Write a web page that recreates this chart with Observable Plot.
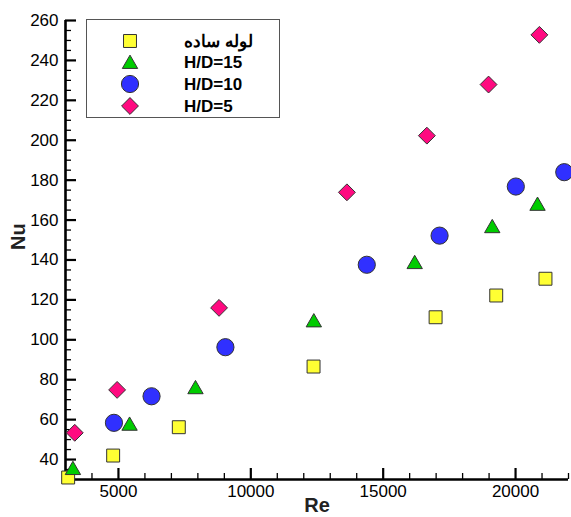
<!DOCTYPE html>
<html><head><meta charset="utf-8">
<script src="https://cdn.jsdelivr.net/npm/d3@7"></script>
<script src="https://cdn.jsdelivr.net/npm/@observablehq/plot@0.6"></script>
<style>
body{margin:0;background:#fff;font-family:"Liberation Sans",Arial,sans-serif;}
#chart{position:relative;width:571px;height:517px;overflow:hidden}
#legend{position:absolute;left:86px;top:19px}
</style></head><body><div id="chart"></div>
<script>
// ---- data ----
const seriesNames = ["لوله ساده", "H/D=15", "H/D=10", "H/D=5"];
const rePlain = [3100, 4800, 7280, 12370, 16980, 19270, 21130];
const nuPlain = [31, 42, 56.2, 86.6, 111.3, 122.2, 130.6];
const reHD15 = [3280, 5420, 7910, 12380, 16190, 19120, 20830];
const nuHD15 = [35.7, 57.9, 76.2, 109.7, 138.9, 156.9, 168.1];
const reHD10 = [4830, 6250, 9040, 14380, 17130, 20010, 21840];
const nuHD10 = [58.4, 71.7, 96.3, 137.6, 152.2, 176.8, 184];
const reHD5 = [3350, 4950, 8800, 13630, 16650, 18980, 20900];
const nuHD5 = [53.4, 74.9, 116, 173.9, 202.3, 227.9, 252.8];
const xTickLabels = [5000, 10000, 15000, 20000];
const yTickLabels = [40, 60, 80, 100, 120, 140, 160, 180, 200, 220, 240, 260];
const xDomain = [3000, 22000];
const yDomain = [30, 260];

// ---- styles ----
const styles = [
  {symbol: "square", fill: "#ffff33", r: 7.3, dy: 0},
  {symbol: "triangle", fill: "#00cc00", r: 5.7, dy: 2},
  {symbol: "circle", fill: "#3030ff", r: 8.6, dy: 0},
  {symbol: "diamond2", fill: "#ff0a80", r: 7.6, dy: 0}
];
const reArr = [rePlain, reHD15, reHD10, reHD5];
const nuArr = [nuPlain, nuHD15, nuHD10, nuHD5];
const tables = reArr.map((res, i) => res.map((re, j) => ({re, nu: nuArr[i][j], series: seriesNames[i]})));

const xMinor = d3.range(4000, 22001, 1000).filter(v => !xTickLabels.includes(v));
const yMinor = d3.range(35, 260, 5).filter(v => !yTickLabels.includes(v));

const W = 571, H = 517, mL = 65, mR = 3, mT = 20, mB = 38;
const frameW = W - mL - mR, frameH = H - mT - mB;
// convert a tick length in pixels into data units of each scale
const yPerPx = (yDomain[1] - yDomain[0]) / frameH;
const xPerPx = (xDomain[1] - xDomain[0]) / frameW;
const xTicksMark = (vals, len, sw) => Plot.ruleX(vals, {x: d => d, y1: yDomain[0], y2: yDomain[0] + len * yPerPx, stroke: "#000", strokeWidth: sw});
const yTicksMark = (vals, len, sw) => Plot.ruleY(vals, {y: d => d, x1: xDomain[0], x2: xDomain[0] + len * xPerPx, stroke: "#000", strokeWidth: sw});

const font = '"Liberation Sans", Arial, sans-serif';
const chart = Plot.plot({
  width: W, height: H,
  marginLeft: mL, marginRight: mR, marginTop: mT, marginBottom: mB,
  style: {fontFamily: font, fontSize: "17px", background: "#fff", overflow: "visible"},
  x: {domain: xDomain},
  y: {domain: yDomain},
  marks: [
    xTicksMark(xMinor, 6, 1.3),
    xTicksMark(xTickLabels, 11, 2.2),
    yTicksMark(yMinor, 6, 1.3),
    yTicksMark(yTickLabels, 11, 2.2),
    Plot.axisX(xTickLabels, {tickSize: 0, tickPadding: 5, tickFormat: d => String(d), fontSize: 17, label: null}),
    Plot.axisY(yTickLabels, {tickSize: 0, tickPadding: 7, tickFormat: d => String(d), fontSize: 17, label: null}),
    Plot.ruleX([xDomain[0]], {strokeWidth: 2.6, stroke: "#000"}),
    Plot.ruleY([yDomain[0]], {strokeWidth: 2.6, stroke: "#000"}),
    ...tables.map((t, i) => Plot.dot(t, {
      x: "re", y: "nu", symbol: () => styles[i].symbol, r: styles[i].r, dy: styles[i].dy,
      fill: styles[i].fill, stroke: "#333", strokeWidth: 1, fillOpacity: 1
    })),
    Plot.text(["Re"], {frameAnchor: "bottom", lineAnchor: "top", dy: 18, fontSize: 20, fontWeight: "bold", fill: "#222"}),
    Plot.text(["Nu"], {frameAnchor: "left", rotate: -90, dx: -47, fontSize: 20, fontWeight: "bold", fill: "#222"})
  ]
});
const container = document.getElementById("chart");
container.appendChild(chart);

// ---- legend overlay ----
const lw = 193, lh = 98;
const leg = d3.select(container).append("svg").attr("id", "legend")
  .attr("width", lw + 1).attr("height", lh + 1);
leg.append("rect").attr("x", 0.5).attr("y", 0.5).attr("width", lw).attr("height", lh)
  .attr("fill", "#fff").attr("stroke", "#555").attr("stroke-width", 1);
const symMap = {square: d3.symbolSquare, triangle: d3.symbolTriangle, circle: d3.symbolCircle, diamond2: d3.symbolDiamond2};
const rowY = [22, 43, 65, 87];
seriesNames.forEach((name, i) => {
  const s = styles[i];
  leg.append("path")
    .attr("d", d3.symbol(symMap[s.symbol], Math.PI * s.r * s.r)())
    .attr("transform", `translate(44,${rowY[i] + s.dy})`)
    .attr("fill", s.fill).attr("stroke", "#333").attr("stroke-width", 1);
  leg.append("text").attr("x", 98).attr("y", rowY[i]).attr("dy", "0.36em")
    .attr("font-family", font).attr("font-size", 17).attr("font-weight", "bold")
    .attr("fill", "#000").text(name);
});
</script></body></html>
